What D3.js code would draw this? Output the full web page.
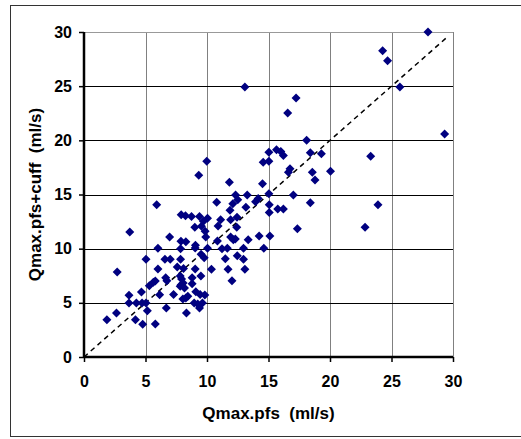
<!DOCTYPE html>
<html>
<head>
<meta charset="utf-8">
<script src="https://cdn.jsdelivr.net/npm/d3@7"></script>
<style>
  body { margin: 0; background: #fff; }
  text { font-family: "Liberation Sans", Arial, sans-serif; font-weight: bold; fill: #000; }
</style>
</head>
<body>
<div id="chart"></div>
<script>
  // values
  var xs = [27.97, 24.28, 24.68, 25.68, 29.32, 23.31, 23.9, 22.85, 13.08, 17.24,
    16.56, 18.1, 15.03, 15.03, 14.57, 15.65, 16.0, 16.21, 18.4, 19.3,
    20.04, 18.56, 18.78, 16.75, 16.62, 9.98, 9.33, 11.82, 14.51, 15.03,
    17.02, 13.27, 12.32, 12.5, 14.16, 13.95, 10.79, 12.1, 15.06, 18.4,
    13.16, 15.75, 16.21, 15.06, 11.87, 5.91, 7.9, 8.25, 8.74, 9.39,
    10.04, 11.11, 11.92, 12.44, 9.71, 9.01, 9.55, 10.9, 12.42, 17.35,
    3.72, 9.85, 6.96, 9.9, 14.24, 15.11, 11.92, 12.14, 12.3, 13.35,
    10.85, 7.88, 8.28, 9.06, 9.04, 6.01, 7.85, 10.04, 11.22, 11.65,
    12.97, 14.62, 9.52, 9.77, 12.46, 11.49, 5.04, 6.58, 7.01, 7.85,
    12.97, 7.58, 8.09, 9.04, 6.01, 10.36, 11.71, 13.08, 2.7, 9.5,
    7.82, 6.64, 8.79, 7.93, 6.74, 12.03, 5.8, 5.64, 8.06, 8.79,
    5.31, 7.82, 8.17, 9.09, 4.67, 7.28, 6.15, 3.66, 8.44, 9.82,
    9.44, 8.04, 8.28, 3.66, 4.26, 4.72, 5.04, 8.96, 9.25, 9.63,
    9.39, 6.69, 5.15, 8.33, 2.64, 1.86, 4.18, 4.77, 5.8, 7.9];
  var ys = [30.0, 28.28, 27.35, 24.92, 20.58, 18.52, 14.06, 11.97, 24.92, 23.9,
    22.52, 20.0, 18.9, 18.06, 17.97, 19.14, 18.98, 18.6, 18.86, 18.77,
    17.14, 17.05, 16.34, 17.38, 17.05, 18.06, 16.77, 16.12, 16.0, 15.08,
    14.95, 14.95, 14.95, 14.52, 14.62, 14.34, 14.28, 14.15, 14.06, 14.25,
    13.82, 13.66, 13.66, 13.35, 13.54, 14.06, 13.14, 13.05, 12.98, 12.98,
    12.8, 12.68, 12.68, 12.89, 12.52, 11.97, 12.06, 12.09, 11.97, 11.85,
    11.54, 11.6, 11.08, 11.08, 11.17, 11.17, 11.08, 10.83, 10.89, 10.83,
    10.71, 10.68, 10.65, 10.31, 10.06, 10.03, 10.0, 10.03, 10.0, 10.03,
    10.03, 10.03, 9.48, 9.17, 9.35, 9.08, 9.02, 9.02, 9.02, 9.02,
    9.02, 8.31, 8.18, 8.12, 8.12, 8.09, 8.09, 8.09, 7.85, 7.48,
    7.48, 7.32, 7.32, 7.2, 7.05, 7.05, 7.02, 6.89, 6.83, 6.77,
    6.58, 6.52, 6.37, 6.03, 6.0, 5.78, 5.75, 5.69, 5.6, 5.72,
    5.78, 5.35, 5.45, 4.98, 4.98, 4.98, 4.98, 4.98, 4.89, 4.98,
    4.52, 4.52, 4.28, 4.06, 4.06, 3.45, 3.45, 3.02, 3.05, 6.68];
  var ticks = [0, 5, 10, 15, 20, 25, 30];
  var diagonal = [0, 29.5];

  var width = 521, height = 439;
  var Plot = { left: 84, right: 453, top: 32, bottom: 357 };

  var x = d3.scaleLinear().domain([0, 30]).range([Plot.left, Plot.right]);
  var y = d3.scaleLinear().domain([0, 30]).range([Plot.bottom, Plot.top]);

  var svg = d3.select("#chart").append("svg")
    .attr("width", width)
    .attr("height", height);

  // outer frame (runs off the right edge)
  svg.append("rect")
    .attr("x", 10.5).attr("y", 5.5)
    .attr("width", 560).attr("height", 431)
    .attr("fill", "none")
    .attr("stroke", "#333")
    .attr("stroke-width", 1);

  // grid
  svg.append("g").selectAll("line")
    .data(ticks.slice(1))
    .enter().append("line")
    .attr("x1", d => Math.round(x(d)) + 0.5).attr("x2", d => Math.round(x(d)) + 0.5)
    .attr("y1", Plot.top).attr("y2", Plot.bottom)
    .attr("stroke", "#808080");
  svg.append("g").selectAll("line")
    .data(ticks.slice(1))
    .enter().append("line")
    .attr("x1", Plot.left).attr("x2", Plot.right)
    .attr("y1", d => Math.round(y(d)) + 0.5).attr("y2", d => Math.round(y(d)) + 0.5)
    .attr("stroke", d => d == 30 ? "#999" : "#000");

  // axes
  var xAxis = d3.axisBottom(x).tickValues(ticks).tickSize(5).tickPadding(14);
  var yAxis = d3.axisLeft(y).tickValues(ticks).tickSize(5).tickPadding(7);

  var gx = svg.append("g")
    .attr("transform", `translate(0, ${Plot.bottom})`)
    .call(xAxis);
  var gy = svg.append("g")
    .attr("transform", `translate(${Plot.left}, 0)`)
    .call(yAxis);
  [gx, gy].forEach(g => {
    g.select(".domain").attr("stroke", "#000").attr("stroke-width", 2.5);
    g.selectAll(".tick line").attr("stroke", "#000").attr("stroke-width", 1.5);
    g.selectAll(".tick text")
      .attr("font-family", "'Liberation Sans', Arial, sans-serif")
      .attr("font-weight", "bold")
      .attr("font-size", 16)
      .attr("fill", "#000");
  });
  gx.select(".domain").attr("d", `M${Plot.left},0H${Plot.right}`);
  gy.select(".domain").attr("d", `M0,${Plot.bottom}V${Plot.top}`);

  // y = x reference line
  svg.append("line")
    .attr("x1", x(diagonal[0])).attr("y1", y(diagonal[0]))
    .attr("x2", x(diagonal[1])).attr("y2", y(diagonal[1]))
    .attr("stroke", "#000")
    .attr("stroke-width", 1.5)
    .attr("stroke-dasharray", "5,4");

  // points
  var pts = xs.map((d, i) => ({ x: d, y: ys[i] }));
  svg.append("g").selectAll("path")
    .data(pts)
    .enter().append("path")
    .attr("transform", d => `translate(${x(d.x)}, ${y(d.y)})`)
    .attr("d", "M0,-4.5L4.5,0L0,4.5L-4.5,0Z")
    .attr("fill", "#000080");

  // titles
  svg.append("text")
    .attr("x", (Plot.left + Plot.right) / 2)
    .attr("y", 419)
    .attr("text-anchor", "middle")
    .attr("font-size", 17)
    .attr("xml:space", "preserve")
    .text("Qmax.pfs  (ml/s)");
  svg.append("text")
    .attr("transform", `translate(41, ${(Plot.top + Plot.bottom) / 2}) rotate(-90)`)
    .attr("text-anchor", "middle")
    .attr("font-size", 17)
    .attr("xml:space", "preserve")
    .text("Qmax.pfs+cuff  (ml/s)");
</script>
</body>
</html>
